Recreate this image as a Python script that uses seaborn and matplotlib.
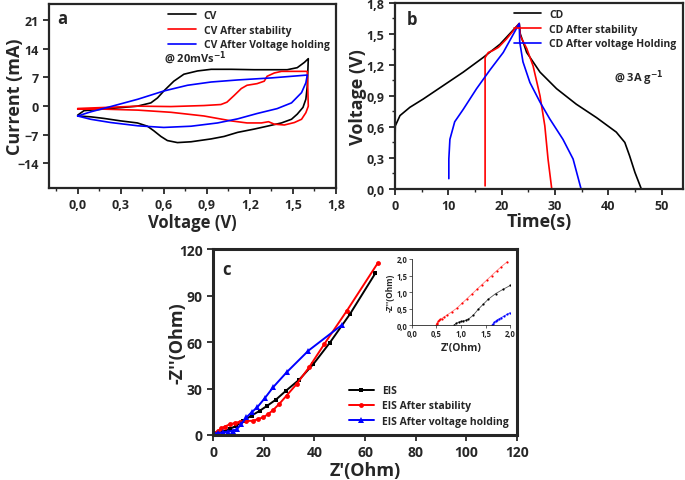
"""Supercapacitor stability figure: CV, GCD and EIS panels."""

import matplotlib
matplotlib.use("Agg")
import matplotlib.pyplot as plt
from matplotlib.ticker import FuncFormatter, MultipleLocator
import pandas as pd
import seaborn as sns

# (a) cyclic voltammetry loops at 20 mV/s
cv_v = [0.0, 0.044, 0.184, 0.416, 0.51, 0.556, 0.6, 0.67, 0.74, 0.835, 0.93,
        1.07, 1.23, 1.46, 1.53, 1.58, 1.607,
        1.6, 1.59, 1.57, 1.53, 1.49, 1.42, 1.32, 1.23, 1.115, 1.02, 0.93, 0.79,
        0.695, 0.625, 0.58, 0.53, 0.486, 0.416, 0.3, 0.184, 0.09, 0.0]
cv_i = [-2.2, -1.1, -0.7, 0.0, 0.8, 2.0, 3.7, 6.1, 7.8, 8.6, 9.0,
        9.0, 8.9, 8.9, 9.4, 10.7, 11.6,
        4.9, 1.7, -0.3, -1.95, -3.2, -4.1, -4.9, -5.6, -6.4, -7.4, -8.0, -8.7,
        -8.9, -8.4, -7.4, -6.0, -4.9, -4.1, -3.6, -3.0, -2.6, -2.4]
cv_stab_v = [0.0, 0.18, 0.42, 0.65, 0.88, 0.998, 1.04, 1.09, 1.14, 1.18, 1.25,
             1.3, 1.32, 1.37, 1.42, 1.6,
             1.607, 1.59, 1.56, 1.51, 1.44, 1.37, 1.33, 1.28, 1.18, 1.07, 0.88,
             0.65, 0.42, 0.18, 0.0]
cv_stab_i = [-0.57, -0.33, 0.0, -0.1, 0.15, 0.4, 0.97, 2.6, 4.3, 5.1, 5.5,
             6.1, 7.3, 8.1, 8.5, 8.5,
             0.0, -1.6, -3.2, -4.0, -4.6, -4.4, -3.8, -4.1, -4.1, -3.6, -2.4,
             -1.5, -0.97, -0.73, -0.73]
cv_hold_v = [0.0, 0.09, 0.23, 0.42, 0.6, 0.765, 0.93, 1.115, 1.35, 1.6,
             1.59, 1.56, 1.49, 1.39, 1.25, 1.115, 0.975, 0.79, 0.6, 0.42, 0.23,
             0.09, 0.0]
cv_hold_i = [-2.4, -1.4, -0.1, 1.7, 3.7, 5.1, 5.9, 6.4, 6.9, 7.6,
             5.7, 3.3, 0.8, -0.6, -1.8, -3.1, -4.1, -4.9, -5.2, -4.8, -4.0,
             -3.2, -2.4]

# (b) charge / discharge at 3 A/g
cd_t = [0.0, 0.06, 0.94, 2.8, 5.3, 9.05, 12.8, 16.5, 19.7, 23.3,
        23.5, 24.7, 27.2, 30.3, 34.0, 37.8, 41.5, 43.1, 44.0, 45.0, 46.2]
cd_u = [0.42, 0.61, 0.71, 0.79, 0.87, 1.0, 1.13, 1.27, 1.40, 1.6,
        1.5, 1.32, 1.13, 0.97, 0.82, 0.69, 0.55, 0.45, 0.32, 0.16, 0.0]
cd_stab_t = [16.9, 16.9, 16.9, 17.5, 18.4, 19.4, 20.9, 23.3,
             23.5, 24.7, 25.9, 27.2, 28.1, 28.7, 29.4]
cd_stab_u = [0.03, 0.6, 1.27, 1.32, 1.34, 1.37, 1.45, 1.6,
             1.48, 1.36, 1.19, 0.90, 0.61, 0.29, 0.0]
cd_hold_t = [10.1, 10.1, 10.3, 11.2, 12.8, 15.3, 17.8, 20.3, 23.3,
             23.4, 24.0, 25.3, 27.2, 29.0, 31.5, 33.4, 34.9]
cd_hold_u = [0.1, 0.29, 0.48, 0.65, 0.77, 0.97, 1.15, 1.32, 1.6,
             1.42, 1.23, 1.03, 0.84, 0.68, 0.48, 0.29, 0.0]

# (c) Nyquist plots
eis_re = [0.0, 1.3, 4.0, 6.6, 9.2, 11.9, 15.2, 18.5, 21.4, 24.8, 28.8, 34.0,
          39.6, 46.0, 54.0, 64.0]
eis_im = [0.0, 0.6, 2.2, 3.9, 6.0, 9.2, 12.5, 15.7, 18.9, 22.8, 28.6, 35.7,
          45.8, 59.4, 78.0, 104.3]
eis_stab_re = [0.0, 0.7, 2.0, 3.3, 4.6, 6.6, 8.6, 10.6, 13.2, 15.8, 17.8, 19.8,
               21.8, 23.7, 26.1, 29.0, 33.0, 37.9, 43.9, 52.8, 65.0]
eis_stab_im = [0.0, 1.1, 2.8, 4.3, 5.4, 6.9, 7.7, 8.6, 9.0, 9.2, 10.3, 11.4,
               13.5, 16.1, 20.0, 25.4, 32.9, 43.7, 58.7, 80.2, 111.0]
eis_hold_re = [0.0, 0.7, 2.0, 4.0, 5.9, 7.9, 9.5, 11.2, 13.2, 15.2, 17.4, 20.4,
               23.7, 29.0, 37.6, 50.8]
eis_hold_im = [0.0, 0.9, 1.3, 1.7, 2.2, 2.8, 3.9, 7.1, 11.4, 14.6, 17.8, 23.7,
               30.8, 40.4, 54.4, 71.0]

# (c) inset: high-frequency region
ins_re = [0.86, 0.9, 0.95, 1.0, 1.05, 1.1, 1.15, 1.25, 1.35, 1.45, 1.55, 1.7,
          1.85, 2.0]
ins_im = [0.0, 0.05, 0.09, 0.11, 0.13, 0.15, 0.18, 0.3, 0.48, 0.63, 0.78, 0.95,
          1.08, 1.2]
ins_stab_re = [0.5, 0.51, 0.52, 0.54, 0.56, 0.58, 0.61, 0.66, 0.72, 0.82, 0.92,
               1.02, 1.12, 1.22, 1.32, 1.42, 1.52, 1.62, 1.72, 1.82, 1.94]
ins_stab_im = [0.0, 0.04, 0.07, 0.11, 0.14, 0.17, 0.2, 0.25, 0.31, 0.41, 0.52,
               0.66, 0.8, 0.94, 1.08, 1.22, 1.36, 1.5, 1.64, 1.77, 1.92]
ins_hold_re = [1.63, 1.65, 1.67, 1.7, 1.73, 1.77, 1.82, 1.88, 1.94, 2.0]
ins_hold_im = [0.0, 0.04, 0.08, 0.12, 0.15, 0.19, 0.23, 0.28, 0.33, 0.38]

BLACK, RED, BLUE = "#000000", "#ff0000", "#0000ff"

sns.set_style("ticks")
plt.rcParams["font.family"] = ["Open Sans", "DejaVu Sans"]
plt.rcParams["font.weight"] = "bold"
plt.rcParams["axes.linewidth"] = 1.6

comma = FuncFormatter(lambda v, p: f"{v:.1f}".replace(".", ","))


def style_axes(ax, labelsize=9):
    ax.tick_params(axis="both", which="major", labelsize=labelsize, width=1.3,
                   length=4, direction="out")
    ax.tick_params(axis="both", which="minor", width=1.0, length=2.5)
    for lab in ax.get_xticklabels() + ax.get_yticklabels():
        lab.set_fontweight("bold")


def draw(ax, x, y, label, color, lw=1.2, **kw):
    df = pd.DataFrame({"x": x, "y": y})
    sns.lineplot(data=df, x="x", y="y", ax=ax, sort=False, estimator=None,
                 color=color, lw=lw, label=label, **kw)


fig = plt.figure(figsize=(6.85, 4.81), dpi=100)

# ---- panel a
ax_a = fig.add_axes([0.0715, 0.607, 0.419, 0.383])
draw(ax_a, cv_v, cv_i, "CV", BLACK)
draw(ax_a, cv_stab_v, cv_stab_i, "CV After stability", RED)
draw(ax_a, cv_hold_v, cv_hold_i, "CV After Voltage holding", BLUE)
ax_a.set_xlim(-0.2, 1.8)
ax_a.set_ylim(-20, 25)
ax_a.xaxis.set_major_locator(MultipleLocator(0.3))
ax_a.xaxis.set_minor_locator(MultipleLocator(0.15))
ax_a.xaxis.set_major_formatter(comma)
ax_a.set_yticks([-14, -7, 0, 7, 14, 21])
ax_a.set_xlabel("Voltage (V)", fontsize=12, fontweight="bold", labelpad=1)
ax_a.set_ylabel("Current (mA)", fontsize=13, fontweight="bold")
ax_a.yaxis.set_label_coords(-0.088, 0.5)
ax_a.text(0.03, 0.97, "a", transform=ax_a.transAxes, fontsize=12,
          fontweight="bold", va="top")
ax_a.text(0.6, 11, "@ 20mVs$^{\\mathbf{-1}}$", fontsize=8, fontweight="bold")
ax_a.legend(loc="upper right", frameon=False, handlelength=2.6,
            borderaxespad=0.2, labelspacing=0.35, prop={"weight": "bold", "size": 7.5})
style_axes(ax_a)

# ---- panel b
ax_b = fig.add_axes([0.5766, 0.605, 0.4204, 0.387])
draw(ax_b, cd_t, cd_u, "CD", BLACK)
draw(ax_b, cd_stab_t, cd_stab_u, "CD After stability", RED)
draw(ax_b, cd_hold_t, cd_hold_u, "CD After voltage Holding", BLUE)
ax_b.set_xlim(0, 54)
ax_b.set_ylim(0, 1.8)
ax_b.xaxis.set_major_locator(MultipleLocator(10))
ax_b.xaxis.set_minor_locator(MultipleLocator(5))
ax_b.yaxis.set_major_locator(MultipleLocator(0.3))
ax_b.yaxis.set_minor_locator(MultipleLocator(0.15))
ax_b.yaxis.set_major_formatter(comma)
ax_b.set_xlabel("Time(s)", fontsize=13, fontweight="bold", labelpad=0)
ax_b.set_ylabel("Voltage (V)", fontsize=13, fontweight="bold")
ax_b.yaxis.set_label_coords(-0.097, 0.5)
ax_b.text(0.04, 0.96, "b", transform=ax_b.transAxes, fontsize=12,
          fontweight="bold", va="top")
ax_b.text(41, 1.05, "@ 3A g$^{\\mathbf{-1}}$", fontsize=8, fontweight="bold")
ax_b.legend(loc="upper right", frameon=False, handlelength=2.6,
            borderaxespad=0.2, labelspacing=0.35, prop={"weight": "bold", "size": 7.5})
style_axes(ax_b)

# ---- panel c
ax_c = fig.add_axes([0.311, 0.0936, 0.444, 0.3864])
for sp in ax_c.spines.values():
    sp.set_linewidth(2.2)
draw(ax_c, eis_re, eis_im, "EIS", BLACK, lw=1.4, marker="s", markersize=3.5,
     markeredgewidth=0)
draw(ax_c, eis_stab_re, eis_stab_im, "EIS After stability", RED, lw=1.4,
     marker="o", markersize=3.5, markeredgewidth=0)
draw(ax_c, eis_hold_re, eis_hold_im, "EIS After voltage holding", BLUE, lw=1.4,
     marker="^", markersize=4, markeredgewidth=0)
ax_c.set_xlim(0, 120)
ax_c.set_ylim(0, 120)
ax_c.xaxis.set_major_locator(MultipleLocator(20))
ax_c.yaxis.set_major_locator(MultipleLocator(30))
ax_c.set_xlabel("Z'(Ohm)", fontsize=13, fontweight="bold", labelpad=1)
ax_c.set_ylabel("-Z''(Ohm)", fontsize=13, fontweight="bold")
ax_c.yaxis.set_label_coords(-0.086, 0.5)
ax_c.text(0.03, 0.94, "c", transform=ax_c.transAxes, fontsize=12,
          fontweight="bold", va="top")
ax_c.legend(loc="lower right", frameon=False, handlelength=2.4,
            borderaxespad=0.4, labelspacing=0.4, prop={"weight": "bold", "size": 7.5})
style_axes(ax_c, labelsize=10)

# ---- inset
ax_i = fig.add_axes([0.601, 0.322, 0.144, 0.1375])
draw(ax_i, ins_stab_re, ins_stab_im, None, "#ff8080", lw=0.6, marker="o",
     markersize=1.6, markerfacecolor=RED, markeredgewidth=0)
draw(ax_i, ins_re, ins_im, None, "#555555", lw=0.6, marker="o",
     markersize=1.6, markerfacecolor=BLACK, markeredgewidth=0)
draw(ax_i, ins_hold_re, ins_hold_im, None, "#4040ff", lw=0.6, marker="o",
     markersize=1.6, markerfacecolor=BLUE, markeredgewidth=0)
ax_i.set_xlim(0, 2)
ax_i.set_ylim(0, 2)
ax_i.xaxis.set_major_locator(MultipleLocator(0.5))
ax_i.yaxis.set_major_locator(MultipleLocator(0.5))
ax_i.xaxis.set_major_formatter(comma)
ax_i.yaxis.set_major_formatter(comma)
sns.despine(ax=ax_i)
for sp in ax_i.spines.values():
    sp.set_linewidth(0.6)
ax_i.tick_params(labelsize=5.5, width=0.5, length=2, pad=1)
for lab in ax_i.get_xticklabels() + ax_i.get_yticklabels():
    lab.set_fontweight("bold")
ax_i.set_xlabel("Z'(Ohm)", fontsize=7.5, fontweight="bold", labelpad=3)
ax_i.set_ylabel("-Z''(Ohm)", fontsize=6, fontweight="bold", labelpad=1)

fig.savefig("out.png", dpi=100)
